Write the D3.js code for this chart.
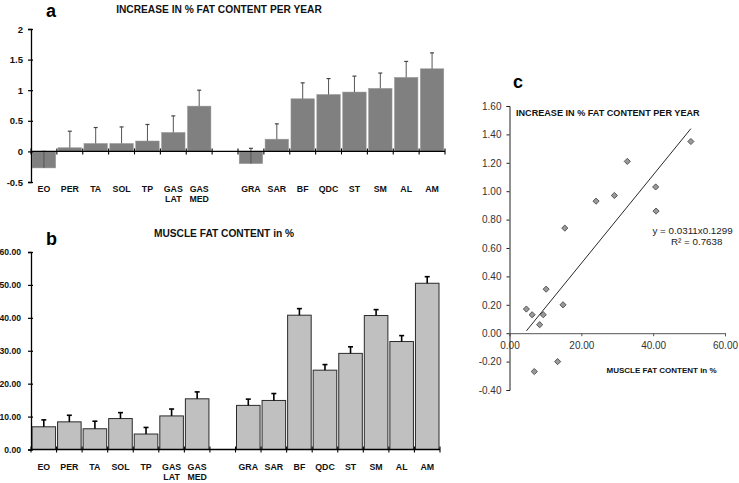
<!DOCTYPE html>
<html>
<head>
<meta charset="utf-8">
<script src="https://cdn.jsdelivr.net/npm/d3@7"></script>
<style>
  html, body { margin: 0; padding: 0; background: #fff; }
  svg { display: block; font-family: "Liberation Sans", Arial, Helvetica, sans-serif; }
</style>
</head>
<body>
<svg id="chart" width="739" height="483"></svg>
<script>
// ---------- DATA ----------
const groupLower = ["EO", "PER", "TA", "SOL", "TP", "GAS LAT", "GAS MED"];
const groupUpper = ["GRA", "SAR", "BF", "QDC", "ST", "SM", "AL", "AM"];
const categories = groupLower.concat(groupUpper);

// Panel a: increase in % fat content per year
const increaseValues = [-0.27, 0.06, 0.13, 0.13, 0.17, 0.31, 0.74, -0.20, 0.20, 0.86, 0.93, 0.97, 1.03, 1.21, 1.35];
const increaseErrors = [0.27, 0.27, 0.26, 0.27, 0.27, 0.27, 0.26, 0.25, 0.25, 0.26, 0.26, 0.26, 0.25, 0.26, 0.26];

// Panel b: muscle fat content in %
const fatValues = [6.9, 8.4, 6.3, 9.4, 4.7, 10.2, 15.4, 13.4, 14.9, 40.8, 24.1, 29.2, 40.7, 32.8, 50.5];
const fatErrors = [2.1, 2.0, 2.3, 1.8, 2.0, 2.1, 2.1, 1.9, 2.1, 2.0, 1.7, 2.0, 1.8, 1.8, 2.0];

// Tick labels
const ticksA = [2, 1.5, 1, 0.5, 0, -0.5];
const ticksB = [60, 50, 40, 30, 20, 10, 0];
const ticksCY = [1.6, 1.4, 1.2, 1.0, 0.8, 0.6, 0.4, 0.2, 0, -0.2, -0.4];
const ticksCX = [0, 20, 40, 60];

// Regression (from the chart's equation label)
const regSlope = 0.0311;
const regIntercept = -0.1299;
const eqLabel = "y = 0.0311x0.1299";
const r2Label = "R\u00B2 = 0.7638";

// ---------- DRAW ----------
const svg = d3.select("#chart");
svg.append("rect").attr("width", 739).attr("height", 483).attr("fill", "#fff");
const GAP = "__gap__";
const slotDomain = groupLower.concat([GAP], groupUpper);
const FONT = "Liberation Sans, Arial, sans-serif";

function categoryLabels(g, x, y0) {
  categories.forEach(c => {
    const parts = c.split(" ");
    const t = g.append("text")
      .attr("x", x(c) + x.bandwidth() / 2)
      .attr("y", y0)
      .attr("text-anchor", "middle")
      .attr("font-size", 8.8).attr("font-weight", "bold").attr("fill", "#111");
    parts.forEach((p, i) => {
      t.append("tspan").attr("x", x(c) + x.bandwidth() / 2).attr("dy", i === 0 ? 0 : 10.5).text(p);
    });
  });
}

function slotTicks(g, x, yPix, crossing) {
  const bounds = slotDomain.map(d => x(d)).concat([x.range()[1]]);
  g.append("line").attr("x1", x.range()[0]).attr("x2", x.range()[1])
    .attr("y1", yPix).attr("y2", yPix).attr("stroke", "#000").attr("stroke-width", 1.3);
  g.selectAll(".st").data(bounds).enter().append("line")
    .attr("x1", d => d).attr("x2", d => d)
    .attr("y1", yPix - crossing).attr("y2", yPix + crossing)
    .attr("stroke", "#000").attr("stroke-width", 1.1);
}

// ===== Panel a =====
{
  const g = svg.append("g");
  const x = d3.scaleBand().domain(slotDomain).range([31, 445]).padding(0);
  const y = d3.scaleLinear().domain([-0.5, 2]).range([182, 29]);

  g.selectAll(".bar").data(categories).enter().append("rect")
    .attr("x", d => x(d) + 1.2)
    .attr("width", x.bandwidth() - 2.4)
    .attr("y", (d, i) => Math.min(y(increaseValues[i]), y(0)))
    .attr("height", (d, i) => Math.abs(y(increaseValues[i]) - y(0)))
    .attr("fill", "#808080").attr("stroke", "#9a9a9a").attr("stroke-width", 0.5);

  categories.forEach((c, i) => {
    const cx = x(c) + x.bandwidth() / 2;
    const top = increaseValues[i] + increaseErrors[i];
    g.append("line").attr("x1", cx).attr("x2", cx)
      .attr("y1", y(increaseValues[i])).attr("y2", y(top))
      .attr("stroke", "#555").attr("stroke-width", 1);
    g.append("line").attr("x1", cx - 2).attr("x2", cx + 2)
      .attr("y1", y(top)).attr("y2", y(top))
      .attr("stroke", "#444").attr("stroke-width", 1.2);
  });

  const ya = g.append("g").attr("transform", "translate(31,0)")
    .call(d3.axisLeft(y).tickValues(ticksA).tickSize(3).tickPadding(5).tickFormat(d => String(d)));
  ya.select(".domain").attr("stroke", "#000").attr("stroke-width", 1.3);
  ya.selectAll(".tick line").attr("x2", 2).attr("x1", -3).attr("stroke-width", 1.2);
  ya.selectAll(".tick text").attr("font-size", 9.5).attr("font-weight", "bold")
    .attr("font-family", FONT).attr("fill", "#111");

  slotTicks(g, x, y(0), 3);
  categoryLabels(g, x, 191.5);

  svg.append("text").attr("x", 46).attr("y", 17).attr("font-size", 18).attr("font-weight", "bold").text("a");
  svg.append("text").attr("x", 219).attr("y", 12.5).attr("text-anchor", "middle")
    .attr("font-size", 10.2).attr("font-weight", "bold").attr("fill", "#111")
    .text("INCREASE IN % FAT CONTENT PER YEAR");
}

// ===== Panel b =====
{
  const g = svg.append("g");
  const x = d3.scaleBand().domain(slotDomain).range([31, 440]).padding(0);
  const y = d3.scaleLinear().domain([0, 60]).range([449.5, 252]);

  g.selectAll(".bar").data(categories).enter().append("rect")
    .attr("x", d => x(d) + 1)
    .attr("width", x.bandwidth() - 2)
    .attr("y", (d, i) => y(fatValues[i]))
    .attr("height", (d, i) => y(0) - y(fatValues[i]))
    .attr("fill", "#c0c0c0").attr("stroke", "#2a2a2a").attr("stroke-width", 1);

  categories.forEach((c, i) => {
    const cx = x(c) + x.bandwidth() / 2;
    const top = fatValues[i] + fatErrors[i];
    g.append("line").attr("x1", cx).attr("x2", cx)
      .attr("y1", y(fatValues[i])).attr("y2", y(top))
      .attr("stroke", "#000").attr("stroke-width", 1.6);
    g.append("line").attr("x1", cx - 2.5).attr("x2", cx + 2.5)
      .attr("y1", y(top)).attr("y2", y(top))
      .attr("stroke", "#000").attr("stroke-width", 1.6);
  });

  const ya = g.append("g").attr("transform", "translate(31,0)")
    .call(d3.axisLeft(y).tickValues(ticksB).tickSize(3).tickPadding(7).tickFormat(d3.format(".2f")));
  ya.select(".domain").attr("stroke", "#000").attr("stroke-width", 1.3);
  ya.selectAll(".tick line").attr("x2", 2).attr("x1", -3).attr("stroke-width", 1.2);
  ya.selectAll(".tick text").attr("font-size", 8.6).attr("font-weight", "bold")
    .attr("font-family", FONT).attr("fill", "#111");

  slotTicks(g, x, y(0), 3);
  categoryLabels(g, x, 469.5);

  svg.append("text").attr("x", 46).attr("y", 245).attr("font-size", 18).attr("font-weight", "bold").text("b");
  svg.append("text").attr("x", 224).attr("y", 237).attr("text-anchor", "middle")
    .attr("font-size", 10.2).attr("font-weight", "bold").attr("fill", "#111")
    .text("MUSCLE FAT CONTENT in %");
}

// ===== Panel c =====
{
  const g = svg.append("g");
  const x = d3.scaleLinear().domain([0, 60]).range([509.5, 725]);
  const y = d3.scaleLinear().domain([-0.4, 1.6]).range([390, 106]);

  const ya = g.append("g").attr("transform", "translate(509.5,0)")
    .call(d3.axisLeft(y).tickValues(ticksCY).tickSize(3).tickPadding(5).tickFormat(d => d.toFixed(2)));
  ya.select(".domain").attr("stroke", "#222").attr("stroke-width", 1);
  ya.selectAll(".tick line").attr("stroke", "#222");
  ya.selectAll(".tick text").attr("font-size", 10)
    .attr("font-family", FONT).attr("fill", "#333");

  const xa = g.append("g").attr("transform", `translate(0,${y(0)})`)
    .call(d3.axisBottom(x).tickValues(ticksCX).tickSize(3).tickPadding(6).tickFormat(d => d.toFixed(2)));
  xa.select(".domain").attr("stroke", "#555").attr("stroke-width", 1);
  xa.selectAll(".tick line").attr("stroke", "#555");
  xa.selectAll(".tick text").attr("font-size", 10)
    .attr("font-family", FONT).attr("fill", "#333");

  const xmin = d3.min(fatValues), xmax = d3.max(fatValues);
  g.append("line")
    .attr("x1", x(xmin)).attr("y1", y(regSlope * xmin + regIntercept))
    .attr("x2", x(xmax)).attr("y2", y(regSlope * xmax + regIntercept))
    .attr("stroke", "#111").attr("stroke-width", 0.9);

  const diamond = d3.symbol().type(d3.symbolSquare).size(19);
  g.selectAll(".pt").data(fatValues).enter().append("path")
    .attr("d", diamond)
    .attr("transform", (d, i) => `translate(${x(d)},${y(increaseValues[i])}) rotate(45)`)
    .attr("fill", "#999").attr("stroke", "#444").attr("stroke-width", 0.8);

  svg.append("text").attr("x", 513).attr("y", 88).attr("font-size", 18).attr("font-weight", "bold").text("c");
  svg.append("text").attr("x", 516).attr("y", 116).attr("font-size", 9.1).attr("font-weight", "bold").attr("fill", "#111")
    .text("INCREASE IN % FAT CONTENT PER YEAR");
  svg.append("text").attr("x", 606.5).attr("y", 373).attr("font-size", 8).attr("font-weight", "bold").attr("fill", "#111")
    .text("MUSCLE FAT CONTENT in %");
  svg.append("text").attr("x", 652.5).attr("y", 233.5).attr("font-size", 9.8).attr("fill", "#222").text(eqLabel);
  svg.append("text").attr("x", 671).attr("y", 244.5).attr("font-size", 9.8).attr("fill", "#222").text(r2Label);
}
</script>
</body>
</html>
